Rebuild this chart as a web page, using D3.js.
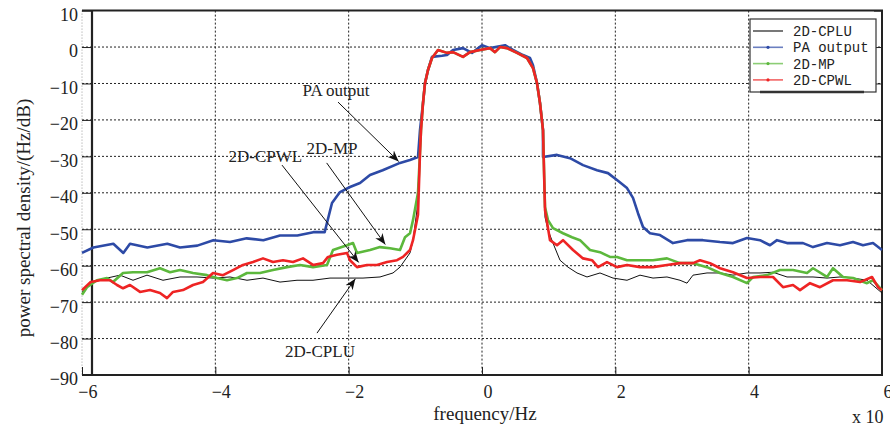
<!DOCTYPE html>
<html>
<head>
<meta charset="utf-8">
<script src="https://cdn.jsdelivr.net/npm/d3@7"></script>
<style>
  body { margin: 0; background: #fff; }
  text { fill: #222; }
</style>
</head>
<body>
<div id="chart"></div>
<script>
// tick values
const xTicks = [-6, -4, -2, 0, 2, 4, 6];
const yTicks = [10, 0, -10, -20, -30, -40, -50, -60, -70, -80, -90];
const seriesNames = ["2D-CPLU", "PA output", "2D-MP", "2D-CPWL"];

// passband shared by the linearised curves (frequency, dB)
const passband = [[-0.93,-29],[-0.915,-22.8],[-0.885,-15.4],[-0.855,-9.9],[-0.81,-6.3],[-0.75,-3.0],
  [-0.66,-0.8],[-0.525,-1.6],[-0.435,-1.4],[-0.285,-2.7],[-0.18,-1.4],[-0.03,-0.8],[0.12,-0.3],
  [0.195,-1.4],[0.27,0],[0.375,-0.3],[0.525,-1.6],[0.675,-3.0],[0.765,-5.8],[0.825,-9.9],
  [0.87,-15.4],[0.915,-22.8]];

const paOutput = [[-6.0,-56.5],[-5.83,-55],[-5.53,-54],[-5.38,-56.5],[-5.28,-54],[-5.02,-55],[-4.72,-54],
  [-4.53,-55],[-4.27,-54.5],[-4.03,-53],[-3.78,-53.5],[-3.53,-52.5],[-3.28,-53],[-3.03,-51.7],
  [-2.77,-51.7],[-2.53,-50.8],[-2.36,-50.8],[-2.25,-42.8],[-2.13,-39.8],[-1.98,-38.4],[-1.83,-37.3],
  [-1.68,-35.1],[-1.49,-33.8],[-1.23,-31.8],[-1.08,-31],[-0.96,-30.2],
  [-0.93,-22.8],[-0.885,-15.4],[-0.855,-9.9],[-0.81,-6.3],[-0.75,-2.7],[-0.6,-2.4],[-0.525,-2.2],
  [-0.435,-0.8],[-0.285,-0.3],[-0.15,-1.6],[0,0.5],[0.12,-0.3],[0.345,0.5],[0.465,-0.8],[0.615,-2.2],
  [0.72,-3.0],[0.765,-5],[0.825,-9.9],[0.87,-15.4],[0.915,-22.8],[0.915,-30.2],
  [1.125,-29.6],[1.32,-30.5],[1.515,-32.4],[1.725,-33.8],[1.89,-34.6],[2.025,-36.5],[2.175,-38.7],
  [2.265,-41.4],[2.34,-45.6],[2.415,-49.4],[2.52,-51.1],[2.67,-51.6],[2.865,-53.8],[3.075,-53],
  [3.315,-53],[3.57,-53.5],[3.765,-53.8],[3.975,-52.4],[4.17,-53],[4.32,-54.4],[4.425,-53],
  [4.575,-53.8],[4.815,-53.8],[4.965,-54.9],[5.175,-53.8],[5.37,-54.4],[5.565,-53.5],[5.715,-54.4],
  [5.865,-53.8],[6.0,-55.7]];

const cpwlLeft = [[-6.0,-66.7],[-5.87,-64.5],[-5.73,-64],[-5.58,-64],[-5.475,-65.3],[-5.385,-66.2],
  [-5.28,-65.3],[-5.13,-67.2],[-4.98,-66.7],[-4.83,-67.5],[-4.725,-68.9],[-4.635,-67.2],[-4.485,-66.7],
  [-4.335,-65.3],[-4.185,-64.5],[-4.035,-62],[-3.885,-62.6],[-3.735,-61.2],[-3.585,-59.8],[-3.435,-59],
  [-3.285,-58],[-3.135,-59],[-2.985,-58.5],[-2.835,-59],[-2.685,-58],[-2.535,-59.8],[-2.385,-59.3],
  [-2.31,-57.6],[-2.175,-57],[-2.025,-56.5],[-1.98,-58.5],[-1.875,-60.4],[-1.725,-59.8],[-1.575,-59.8],
  [-1.425,-59],[-1.275,-58.5],[-1.185,-57.6],[-1.08,-55.7],[-1.035,-53],[-0.96,-46]];
const cpwlRight = [[0.945,-44.7],[1.02,-53],[1.125,-54.4],[1.215,-53],[1.365,-55.7],[1.515,-58],
  [1.65,-58.5],[1.74,-60.4],[1.875,-59],[2.025,-60.4],[2.175,-59.8],[2.37,-60.4],[2.565,-60.4],
  [2.775,-59.8],[2.97,-59.3],[3.165,-59.3],[3.27,-58.5],[3.42,-59.3],[3.57,-60.7],[3.765,-61.8],
  [3.975,-63.4],[4.17,-63.1],[4.365,-63.1],[4.515,-65.9],[4.665,-65.3],[4.77,-66.7],[4.92,-64.8],
  [5.07,-65.9],[5.265,-64],[5.475,-64],[5.67,-64.5],[5.85,-63.1],[5.94,-65.9],[6.0,-66.7]];

const mpLeft = [[-6.0,-68],[-5.925,-65.9],[-5.775,-64],[-5.625,-63.4],[-5.535,-64.5],[-5.385,-62],
  [-5.235,-61.8],[-5.025,-61.8],[-4.83,-60.7],[-4.68,-61.8],[-4.53,-61.2],[-4.335,-62],[-4.125,-62.6],
  [-3.975,-63.4],[-3.825,-64],[-3.675,-63.4],[-3.525,-62],[-3.33,-62],[-3.135,-61.2],[-2.925,-60.4],
  [-2.73,-59.8],[-2.535,-60.4],[-2.325,-59.8],[-2.235,-55.7],[-2.025,-54.4],[-1.935,-53.8],
  [-1.875,-56.5],[-1.68,-55.7],[-1.53,-54.9],[-1.38,-55.2],[-1.23,-55.7],[-1.155,-52.2],[-1.08,-51.1],
  [-1.035,-47.5],[-0.96,-40]];
const mpRight = [[0.945,-43.9],[0.99,-47.5],[1.065,-49.7],[1.215,-51.1],[1.35,-52.2],[1.47,-53],
  [1.62,-55.7],[1.77,-56.3],[1.92,-57.6],[2.025,-57.6],[2.175,-58.5],[2.37,-58.5],[2.565,-58.5],
  [2.775,-58],[2.97,-59.3],[3.165,-59.3],[3.375,-60.4],[3.57,-62],[3.765,-63.1],[3.975,-64.8],
  [4.065,-63.1],[4.275,-62.6],[4.47,-61.2],[4.665,-61.2],[4.875,-62],[4.965,-60.7],[5.175,-63.1],
  [5.265,-60.7],[5.415,-63.1],[5.565,-63.4],[5.775,-64.8],[5.865,-64],[6.0,-66.7]];

const cpluLeft = [[-6.0,-67.2],[-5.87,-64.5],[-5.625,-63.4],[-5.43,-62.6],[-5.235,-64],[-5.025,-62.6],
  [-4.785,-64],[-4.53,-63.1],[-4.275,-63.1],[-4.035,-63.4],[-3.78,-63.1],[-3.525,-64],[-3.285,-63.4],
  [-3.03,-64.5],[-2.775,-64],[-2.535,-64],[-2.28,-63.4],[-2.025,-63.4],[-1.785,-63.4],[-1.53,-63.1],
  [-1.335,-62],[-1.23,-60.4],[-1.08,-56.5],[-1.035,-53],[-0.975,-44.7]];
const cpluRight = [[0.945,-46.7],[0.99,-50.2],[1.065,-53.8],[1.17,-58.5],[1.29,-60.4],[1.425,-62],
  [1.575,-63.1],[1.77,-62],[1.965,-63.4],[2.175,-64],[2.37,-62.6],[2.565,-63.4],[2.775,-63.1],
  [2.97,-64],[3.075,-64.8],[3.165,-62.6],[3.375,-62],[3.57,-62],[3.765,-62.6],[3.975,-62],[4.17,-62],
  [4.365,-61.8],[4.575,-63.1],[4.77,-63.1],[4.965,-63.1],[5.175,-63.4],[5.37,-63.1],[5.565,-63.4],
  [5.775,-64],[6.0,-67.5]];

const cplu = cpluLeft.concat(passband, cpluRight);
const mp = mpLeft.concat(passband, mpRight);
const cpwl = cpwlLeft.concat(passband, cpwlRight);

// label text, label point, arrow tail, arrow head (frequency, dB)
const notes = [
  {text: "PA output", at: [-2.19, -11.8], from: [-2.16, -15.1], to: [-1.25, -31.4]},
  {text: "2D-MP",     at: [-2.25, -27.7], from: [-2.33, -31.8], to: [-1.45, -54.2]},
  {text: "2D-CPWL",   at: [-3.25, -29.9], from: [-3.0, -32.4],  to: [-1.85, -59.1]},
  {text: "2D-CPLU",   at: [-2.43, -83.4], from: [-2.475, -78.5], to: [-1.9, -63.6]}
];

const serif = "'Liberation Serif', 'Times New Roman', serif";
const width = 890, height = 428;
const x = d3.scaleLinear().domain([-6, 6]).range([82, 882]);
const y = d3.scaleLinear().domain([-90, 10]).range([375, 10.6]);

const svg = d3.select("#chart").append("svg")
  .attr("width", width).attr("height", height)
  .style("font-family", serif);

// grid
svg.append("g").selectAll("line").data(yTicks.slice(1, -1)).join("line")
  .attr("x1", x(-6)).attr("x2", x(6))
  .attr("y1", d => y(d)).attr("y2", d => y(d))
  .attr("stroke", "#222").attr("stroke-dasharray", "2,2");
svg.append("g").selectAll("line").data(xTicks.slice(1, -1)).join("line")
  .attr("x1", d => x(d)).attr("x2", d => x(d))
  .attr("y1", y(10)).attr("y2", y(-90))
  .attr("stroke", "#222").attr("stroke-dasharray", "2,2");
svg.append("line")
  .attr("x1", x(-6)).attr("x2", x(-6)).attr("y1", y(10)).attr("y2", y(-90))
  .attr("stroke", "#999").attr("stroke-dasharray", "1,2");

// axes
const fmt = d => d3.format("")(d).replace("-", "\u2212");
const yAxis = svg.append("g")
  .attr("transform", `translate(${x(-6)},0)`)
  .call(d3.axisLeft(y).tickValues(yTicks).tickSize(-10).tickPadding(4).tickFormat(fmt));
yAxis.select(".domain").remove();
yAxis.selectAll(".tick line").attr("stroke", "#222");
yAxis.selectAll("text").attr("font-size", 18)
  .style("font-family", serif).attr("fill", "#222").attr("dy", "0.55em");

const yAxisR = svg.append("g")
  .attr("transform", `translate(${x(6)},0)`)
  .call(d3.axisRight(y).tickValues(yTicks).tickSize(-8).tickFormat(""));
yAxisR.select(".domain").remove();
yAxisR.selectAll(".tick line").attr("stroke", "#222");

const xAxis = svg.append("g")
  .attr("transform", `translate(0,${y(-90)})`)
  .call(d3.axisBottom(x).tickValues(xTicks).tickSize(-8).tickPadding(10).tickFormat(fmt));
xAxis.select(".domain").remove();
xAxis.selectAll(".tick line").attr("stroke", "#222");
xAxis.selectAll("text").attr("font-size", 18)
  .style("font-family", serif).attr("fill", "#222").attr("dx", "0.3em");

// frame
svg.append("path")
  .attr("d", `M${x(-6)},${y(10)}H${x(6)}V${y(-90)}H${x(-6)}`)
  .attr("fill", "none").attr("stroke", "#222").attr("stroke-width", 2);
svg.append("line")
  .attr("x1", x(-6) + 10).attr("x2", x(-6) + 10).attr("y1", y(10)).attr("y2", y(-90))
  .attr("stroke", "#222").attr("stroke-width", 2.2);

// curves
const line = d3.line().x(d => x(d[0])).y(d => y(d[1]));
const curves = [
  {data: cplu, color: "#111", w: 1},
  {data: paOutput, color: "#2d4aa6", w: 2.6},
  {data: mp, color: "#5cb83c", w: 2.6},
  {data: cpwl, color: "#ee2424", w: 2.6}
];
svg.append("g").selectAll("path").data(curves).join("path")
  .attr("d", d => line(d.data))
  .attr("fill", "none")
  .attr("stroke", d => d.color)
  .attr("stroke-width", d => d.w)
  .attr("stroke-linejoin", "round");

// annotations
svg.append("defs").append("marker")
  .attr("id", "arr").attr("viewBox", "0 0 10 10").attr("refX", 10).attr("refY", 5)
  .attr("markerWidth", 11).attr("markerHeight", 11).attr("orient", "auto")
  .attr("markerUnits", "userSpaceOnUse")
  .append("path").attr("d", "M0,1L10,5L0,9L3,5Z").attr("fill", "#111");
const ann = svg.append("g");
ann.selectAll("line").data(notes).join("line")
  .attr("x1", d => x(d.from[0])).attr("y1", d => y(d.from[1]))
  .attr("x2", d => x(d.to[0])).attr("y2", d => y(d.to[1]))
  .attr("stroke", "#111").attr("stroke-width", 1)
  .attr("marker-end", "url(#arr)");
ann.selectAll("text").data(notes).join("text")
  .attr("x", d => x(d.at[0])).attr("y", d => y(d.at[1]))
  .attr("dy", "0.35em").attr("text-anchor", "middle")
  .attr("font-size", 17)
  .text(d => d.text);

// legend
const lg = svg.append("g").attr("transform", "translate(750,19)");
lg.append("rect").attr("width", 126).attr("height", 73)
  .attr("fill", "#fff").attr("stroke", "#333").attr("stroke-width", 1.2);
lg.append("line").attr("x1", 10).attr("x2", 114).attr("y1", 73).attr("y2", 73)
  .attr("stroke", "#333").attr("stroke-width", 2.5);
const items = lg.selectAll("g.item").data(seriesNames).join("g")
  .attr("class", "item")
  .attr("transform", (d, i) => `translate(0,${12 + i * 16.3})`);
items.append("line").attr("x1", 3).attr("x2", 33)
  .attr("stroke", (d, i) => curves[i].color).attr("stroke-width", 1.6).attr("opacity", 0.7);
items.filter((d, i) => i > 0).append("circle").attr("cx", 18).attr("r", 1.6)
  .attr("fill", (d, i) => curves[i + 1].color);
items.append("text").attr("x", 43).attr("dy", "0.35em")
  .style("font-family", "'Liberation Mono', 'DejaVu Sans Mono', monospace")
  .attr("font-size", 14)
  .text(d => d);

// axis titles
svg.append("text")
  .attr("transform", "translate(23,218) rotate(-90)")
  .attr("text-anchor", "middle").attr("dy", "0.35em")
  .attr("font-size", 19)
  .text("power spectral density/(Hz/dB)");
svg.append("text")
  .attr("x", 485).attr("y", 413).attr("dy", "0.35em")
  .attr("text-anchor", "middle").attr("font-size", 19)
  .text("frequency/Hz");
svg.append("text")
  .attr("x", 852).attr("y", 417).attr("dy", "0.35em")
  .attr("font-size", 18)
  .text("x 10");
</script>
</body>
</html>
